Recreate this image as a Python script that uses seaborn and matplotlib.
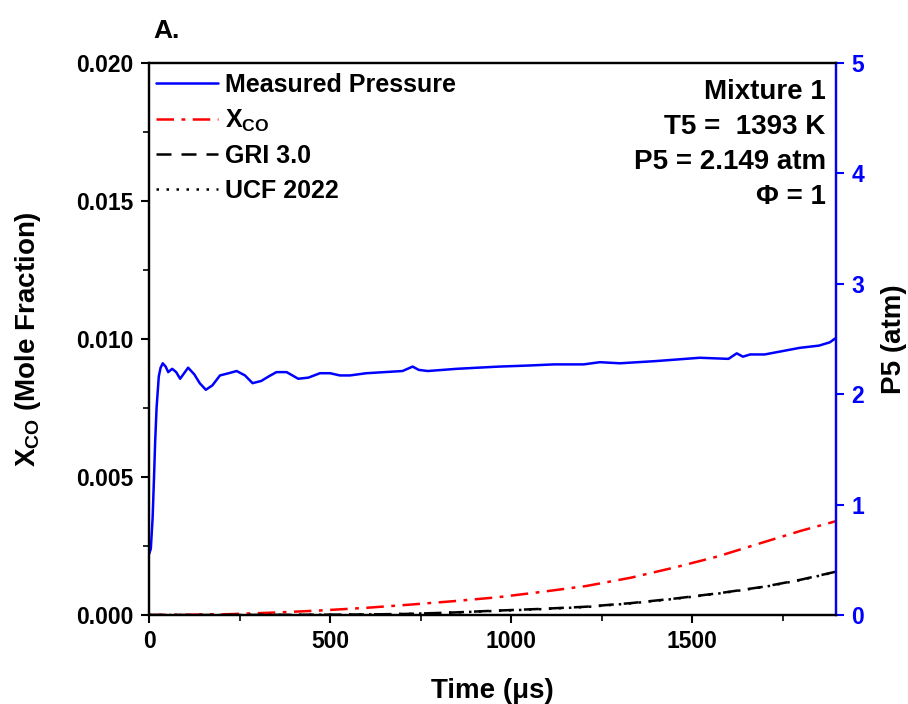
import matplotlib
matplotlib.use("Agg")
import matplotlib.pyplot as plt
import seaborn as sns
from matplotlib.lines import Line2D
from matplotlib.ticker import MultipleLocator, FormatStrFormatter

# ---- data ----
p_time = [0, 5, 10, 14, 17, 21, 27, 32, 38, 46, 53, 64, 75, 86, 97, 108, 125, 140, 157,
          175, 196, 220, 242, 265, 286, 310, 330, 352, 380, 412, 440, 472, 500, 527, 555,
          600, 650, 700, 728, 745, 770, 850, 966, 1050, 1118, 1200, 1245, 1300, 1400, 1521,
          1600, 1623, 1640, 1660, 1700, 1797, 1850, 1880, 1897]
p_atm = [0.55, 0.60, 0.88, 1.26, 1.57, 1.88, 2.16, 2.24, 2.28, 2.25, 2.20, 2.23, 2.20, 2.14,
         2.19, 2.24, 2.18, 2.10, 2.04, 2.08, 2.17, 2.19, 2.21, 2.17, 2.10, 2.12, 2.16, 2.20,
         2.20, 2.14, 2.15, 2.19, 2.19, 2.17, 2.17, 2.19, 2.20, 2.21, 2.25, 2.22, 2.21, 2.23,
         2.25, 2.26, 2.27, 2.27, 2.29, 2.28, 2.30, 2.33, 2.32, 2.37, 2.34, 2.36, 2.36, 2.42,
         2.44, 2.47, 2.51]

xco_time = [0, 100, 221, 350, 468, 600, 715, 840, 961, 1080, 1207, 1330, 1454, 1570, 1688, 1800, 1897]
xco_meas = [0, 0.00001, 0.00003, 0.00009, 0.00016, 0.00026, 0.00037, 0.00050, 0.00064, 0.00083,
            0.00105, 0.00135, 0.00173, 0.00212, 0.00260, 0.00305, 0.00340]

mod_time = [0, 221, 468, 600, 715, 840, 961, 1080, 1207, 1330, 1455, 1580, 1700, 1800, 1897]
gri30 = [0, 0, 0.00001, 0.00002, 0.00004, 0.00009, 0.00016, 0.00022, 0.00030, 0.00043,
         0.00060, 0.00080, 0.00103, 0.00128, 0.00157]
ucf2022 = [0, 0, 0.00001, 0.00002, 0.00004, 0.00009, 0.00015, 0.00021, 0.00029, 0.00042,
           0.00059, 0.00079, 0.00102, 0.00127, 0.00156]

legend_labels = ["Measured Pressure", r"X$_{\mathbf{CO}}$", "GRI 3.0", "UCF 2022"]
info_lines = ["Mixture 1", "T5 =  1393 K", "P5 = 2.149 atm", "Φ = 1"]

# ---- style ----
sns.set_theme(style="ticks")
plt.rcParams["font.family"] = ["Liberation Sans", "DejaVu Sans"]
plt.rcParams["font.weight"] = "bold"
plt.rcParams["axes.labelweight"] = "bold"
plt.rcParams["text.color"] = "black"
plt.rcParams["axes.labelcolor"] = "black"
plt.rcParams["xtick.color"] = "black"
plt.rcParams["ytick.color"] = "black"
plt.rcParams["mathtext.fontset"] = "custom"
plt.rcParams["mathtext.bf"] = "Liberation Sans:bold"
plt.rcParams["mathtext.rm"] = "Liberation Sans:bold"
plt.rcParams["mathtext.it"] = "Liberation Sans:bold"
plt.rcParams["mathtext.default"] = "bf"

BLUE = "#0000ff"
fig = plt.figure(figsize=(9.08, 7.04), dpi=100)
ax = fig.add_axes([149/908, 1-615/704, (836-149)/908, (615-63)/704])
ax2 = ax.twinx()

sns.lineplot(x=xco_time, y=xco_meas, ax=ax, color="red", linewidth=1.8,
             linestyle=(0, (7, 3, 1.5, 3)), sort=False, estimator=None)
sns.lineplot(x=mod_time, y=gri30, ax=ax, color="black", linewidth=1.8,
             linestyle=(0, (6, 4)), sort=False, estimator=None)
sns.lineplot(x=mod_time, y=ucf2022, ax=ax, color="black", linewidth=1.8,
             linestyle=(0, (1, 3)), sort=False, estimator=None)
sns.lineplot(x=p_time, y=p_atm, ax=ax2, color=BLUE, linewidth=1.8,
             sort=False, estimator=None)

ax.set_xlim(0, 1897)
ax.set_ylim(0, 0.02)
ax2.set_ylim(0, 5)
ax.xaxis.set_major_locator(MultipleLocator(500))
ax.xaxis.set_minor_locator(MultipleLocator(250))
ax.yaxis.set_major_locator(MultipleLocator(0.005))
ax.yaxis.set_minor_locator(MultipleLocator(0.0025))
ax.yaxis.set_major_formatter(FormatStrFormatter("%.3f"))
ax2.yaxis.set_major_locator(MultipleLocator(1))

for a in (ax, ax2):
    for s in a.spines.values():
        s.set_linewidth(1.6)
        s.set_color("black")
ax2.spines["right"].set_color(BLUE)

ax.tick_params(axis="both", which="major", direction="out", length=6, width=1.5,
               labelsize=16.5, colors="black", pad=5)
ax.tick_params(axis="both", which="minor", direction="out", length=4, width=1.2)
ax.tick_params(axis="y", which="both", right=False)
ax.tick_params(axis="x", which="both", top=False)
ax2.tick_params(axis="y", which="major", direction="out", length=6, width=1.5,
                labelsize=16.5, colors=BLUE, pad=5)
for lbl in ax.get_xticklabels() + ax.get_yticklabels() + ax2.get_yticklabels():
    lbl.set_fontweight("bold")

ax.set_xlabel("Time (μs)", fontsize=20, fontweight="bold", labelpad=18)
ax.set_ylabel(r"X$_{\mathbf{CO}}$ (Mole Fraction)", fontsize=20, fontweight="bold", labelpad=24)
ax2.set_ylabel("P5 (atm)", fontsize=20, fontweight="bold", color="black", labelpad=12)

handles = [
    Line2D([], [], color=BLUE, lw=1.8),
    Line2D([], [], color="red", lw=1.8, linestyle=(0, (7, 3, 1.5, 3))),
    Line2D([], [], color="black", lw=1.8, linestyle=(0, (6, 4))),
    Line2D([], [], color="black", lw=1.8, linestyle=(0, (1, 3))),
]
leg = ax2.legend(handles, legend_labels, loc="upper left", bbox_to_anchor=(-0.004, 1.0),
                 frameon=False, handlelength=2.45, handletextpad=0.3,
                 labelspacing=0.42, borderaxespad=0.15, borderpad=0.25,
                 prop={"weight": "bold", "size": 18})

for i, t in enumerate(info_lines):
    ax2.text(0.985, 0.948 - i * 0.0635, t, transform=ax2.transAxes, ha="right", va="center",
             fontsize=20, fontweight="bold", color="black")

fig.text(153/908, 1-31/704, "A.", fontsize=19, fontweight="bold", ha="left", va="center")

fig.savefig("out.png", dpi=100)
